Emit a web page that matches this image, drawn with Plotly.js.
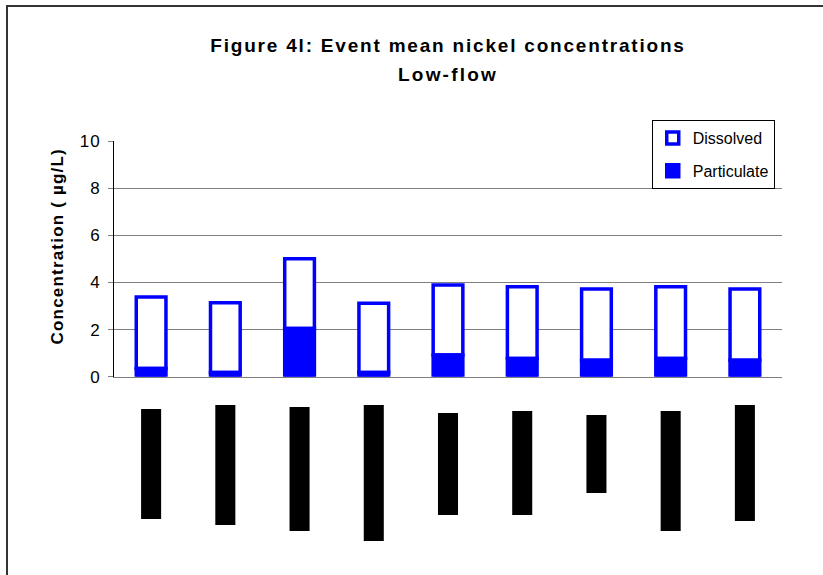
<!DOCTYPE html>
<html>
<head>
<meta charset="utf-8">
<script src="https://cdn.plot.ly/plotly-3.0.1.min.js"></script>
<style>
  html, body { margin: 0; padding: 0; background: #ffffff; }
  #chart { width: 823px; height: 575px; }
</style>
</head>
<body>
<div id="chart"></div>
<script>
// Event mean nickel concentrations, low-flow events (µg/L)
const events = ["Event 1", "Event 2", "Event 3", "Event 4", "Event 5",
                "Event 6", "Event 7", "Event 8", "Event 9"];
const particulate = [0.35, 0.18, 2.05, 0.18, 0.92, 0.77, 0.70, 0.77, 0.70];
const dissolved   = [3.03, 2.96, 2.95, 2.94, 2.97, 3.05, 3.02, 3.05, 3.02];

// Category label strip below the axis: each label is printed as a solid
// black block (start offset and length within the strip)
const labelStart  = [14, 10, 12, 10, 18, 16, 20, 16, 10];
const labelLength = [110, 120, 124, 136, 102, 104, 78, 120, 116];

const yTicks = [0, 2, 4, 6, 8, 10];

const BLUE = "#0000ff";
const FONT = "Liberation Sans, Arial, sans-serif";

// wide letter spacing used by the chart's text
const spaced = (s, px, size) =>
  `<span style="letter-spacing:${px}px${size ? `;font-size:${size}px` : ""}">${s}</span>`;

const traces = [
  {
    type: "bar",
    name: "Dissolved",
    legendgroup: "dissolved",
    x: events,
    y: dissolved,
    base: particulate,
    width: 0.4,
    marker: { color: "#ffffff", line: { color: BLUE, width: 3.5 } },
    xaxis: "x", yaxis: "y"
  },
  {
    type: "bar",
    name: "Particulate",
    legendgroup: "particulate",
    x: events,
    y: particulate,
    width: 0.4,
    marker: { color: BLUE, line: { color: BLUE, width: 3.5 } },
    xaxis: "x", yaxis: "y"
  },
  {
    type: "bar",
    name: "labels",
    showlegend: false,
    x: events,
    y: labelLength,
    base: labelStart,
    width: 0.27,
    marker: { color: "#000000", line: { width: 0 } },
    xaxis: "x", yaxis: "y2"
  }
];

const layout = {
  width: 823,
  height: 575,
  margin: { l: 114, r: 41, t: 141, b: 30 },
  paper_bgcolor: "#ffffff",
  plot_bgcolor: "rgba(0,0,0,0)",
  barmode: "overlay",
  font: { family: FONT, color: "#000000", size: 16 },
  title: {
    // the larger title size sets the gap between the two lines
    text: spaced("Figure 4l: Event mean nickel concentrations", 1.8, 19) +
          "<br>" + spaced("Low-flow", 2.2, 19),
    font: { family: FONT, size: 22.5, color: "#000000", weight: "bold" },
    xref: "paper", x: 0.5, xanchor: "center",
    yref: "container", y: 1 - 52 / 575, yanchor: "top"
  },
  xaxis: {
    type: "category",
    anchor: "y",
    showline: true,
    linecolor: "#808080",
    linewidth: 1,
    showgrid: false,
    showticklabels: false,
    ticks: "",
    fixedrange: true
  },
  yaxis: {
    domain: [168.3 / 404, 1],
    range: [0, 10],
    tickvals: yTicks,
    ticktext: yTicks.map(v => spaced(String(v), 1)),
    tickfont: { family: FONT, size: 17, color: "#000000" },
    ticks: "outside",
    ticklen: 5,
    tickcolor: "#808080",
    ticklabelstandoff: 4,
    showgrid: true,
    gridcolor: "#808080",
    gridwidth: 1,
    zeroline: false,
    showline: true,
    linecolor: "#000000",
    linewidth: 1,
    fixedrange: true
  },
  yaxis2: {
    domain: [0, 150 / 404],
    range: [150, 0],
    visible: false,
    fixedrange: true
  },
  legend: {
    x: 0.805, xanchor: "left",
    y: 1.052, yanchor: "top",
    bgcolor: "#ffffff",
    bordercolor: "#000000",
    borderwidth: 1,
    traceorder: "grouped",
    tracegroupgap: 9,
    font: { family: FONT, size: 16, color: "#000000" }
  },
  annotations: [
    {
      text: spaced("Concentration ( µg/L)", 1.2),
      textangle: -90,
      xref: "paper", yref: "paper",
      x: (57 - 114) / 668, y: (545 - 246.5) / 404,
      xanchor: "center", yanchor: "middle",
      showarrow: false,
      font: { family: FONT, size: 17, color: "#000000", weight: "bold" }
    }
  ],
  shapes: [
    {
      type: "rect",
      xref: "paper", yref: "paper",
      x0: (7 - 114) / 668, x1: 2,
      y0: -1, y1: (545 - 6) / 404,
      line: { color: "#333333", width: 2 },
      fillcolor: "rgba(0,0,0,0)",
      layer: "above"
    }
  ],
  hovermode: false,
  showlegend: true
};

Plotly.newPlot("chart", traces, layout, { staticPlot: true, displayModeBar: false });
</script>
</body>
</html>
